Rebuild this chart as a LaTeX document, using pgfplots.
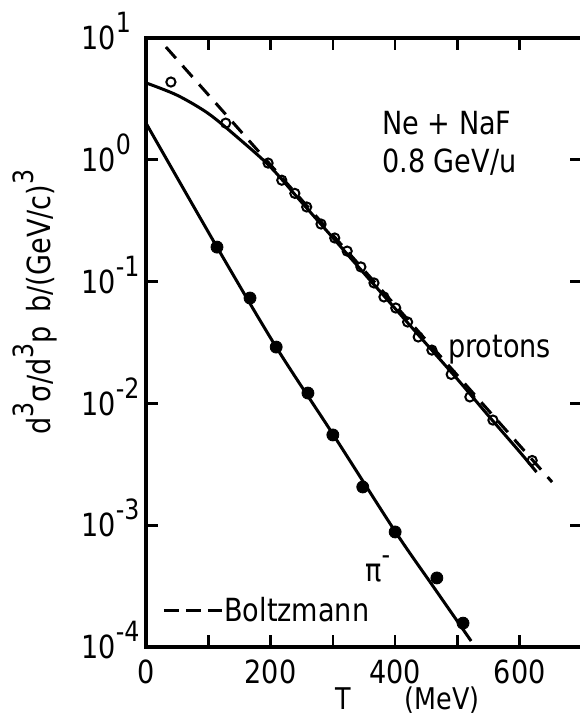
\documentclass[border=0pt]{standalone}
\usepackage{fontspec}
\setmainfont{DejaVu Sans}[FakeStretch=0.85]
\usepackage{pgfplots}
\pgfplotsset{compat=1.18}
\newcommand{\ex}[1]{\smash{\raisebox{8.5bp}{\fontsize{14}{14}\selectfont #1}}}
\begin{document}
\begin{tikzpicture}
\begin{axis}[
  scale only axis, width=218bp, height=304.5bp,
  xmin=0, xmax=700, ymode=log, ymin=1e-4, ymax=10,
  xtick={0,100,200,300,400,500,600,700},
  xticklabels={0,,200,,400,,600,},
  ytick={1e-4,1e-3,1e-2,1e-1,1,10},
  yticklabels={10\ex{-4},10\ex{-3},10\ex{-2},10\ex{-1},10\ex{0},10\ex{1}},
  yminorticks=false, xminorticks=false,
  axis line style={line width=1.8bp},
  major tick length=6bp,
  every tick/.style={black, line width=1.3bp},
  tick label style={font=\fontsize{16}{16}\selectfont, inner sep=0pt},
  xticklabel style={yshift=-6bp},
  yticklabel style={anchor=west, xshift=-32.5bp},
  legend style={draw=none, fill=none, at={(axis cs:25.7,1.98e-4)}, anchor=west,
    inner sep=0pt, font=\fontsize{16}{16}\selectfont, nodes={inner sep=0.5bp}},
  legend cell align=left,
  legend image code/.code={\draw[line width=1.5bp, dash pattern=on 7.5bp off 3.5bp] (0bp,0bp) -- (29bp,0bp);},
]
\coordinate (O) at (rel axis cs:0,0);
\coordinate (TR) at (rel axis cs:1,1);
% Boltzmann (dashed)
\addplot[black, line width=1.5bp, dash pattern=on 7.5bp off 5bp] coordinates {
  (32,8.43) (652,2.26e-3)
};
\addlegendentry{Boltzmann}
% proton fit
\addplot[black, line width=1.5bp, smooth, forget plot] coordinates {
  (0,4.28) (50,3.39) (100,2.40) (150,1.48) (200,0.871) (250,0.447)
  (300,0.229) (350,0.117) (400,0.0601) (450,0.0308) (500,0.0158)
  (550,0.0079) (600,0.0040) (627,0.00273)
};
% pion fit
\addplot[black, line width=1.5bp, smooth, forget plot] coordinates {
  (0,2.0) (114,0.192) (209,0.0290) (300,0.0056) (400,8.9e-4)
  (460,3.2e-4) (522,1.12e-4)
};
% proton data
\addplot[only marks, mark=o, mark size=2.3bp, mark options={line width=1bp, black}, forget plot] coordinates {
  (40,4.35) (128,2.0) (196,0.94) (218,0.68) (239,0.53) (258,0.41)
  (281,0.297) (303,0.228) (323,0.178) (345,0.132) (366,0.0975)
  (382,0.0748) (401,0.0607) (420,0.0466) (437,0.0351) (459,0.0274)
  (490,0.0173) (520,0.0113) (557,0.0073) (620,0.0034)
};
% pion data
\addplot[only marks, mark=*, mark size=3bp, mark options={black}, forget plot] coordinates {
  (114,0.192) (167,0.0733) (209,0.0290) (260,0.01216) (300,0.00551)
  (348,0.00206) (400,8.8e-4) (467,3.69e-4) (509,1.57e-4)
};
\node[anchor=base west, font=\fontsize{16}{16}\selectfont, inner sep=0pt] at (axis cs:378.6,1.60) {Ne + NaF};
\node[anchor=base west, font=\fontsize{16}{16}\selectfont, inner sep=0pt] at (axis cs:378.6,0.78) {0.8 GeV/u};
\node[anchor=base west, font=\fontsize{16}{16}\selectfont, inner sep=0pt] at (axis cs:484.5,0.02404) {protons};
\node[anchor=base west, font=\fontsize{16}{16}\selectfont, inner sep=0pt] at (axis cs:351.4,3.42e-4) {π\ex{-}};
\end{axis}
\node[anchor=base west, font=\fontsize{15}{15}\selectfont, inner sep=0pt] at ([xshift=94.5bp,yshift=-31bp]O) {T\hspace{27bp}(MeV)};
\node[rotate=90, anchor=base, font=\fontsize{16}{16}\selectfont, inner sep=0pt] at ([xshift=-48bp,yshift=172.5bp]O)
  {d\ex{3}σ/d\ex{3}p\hspace{7bp}b/(GeV/c)\ex{3}};
\pgfresetboundingbox
\path[use as bounding box] ([xshift=-73bp,yshift=-34bp]O) rectangle ([xshift=-1bp,yshift=19bp]TR);
\end{tikzpicture}
\end{document}
